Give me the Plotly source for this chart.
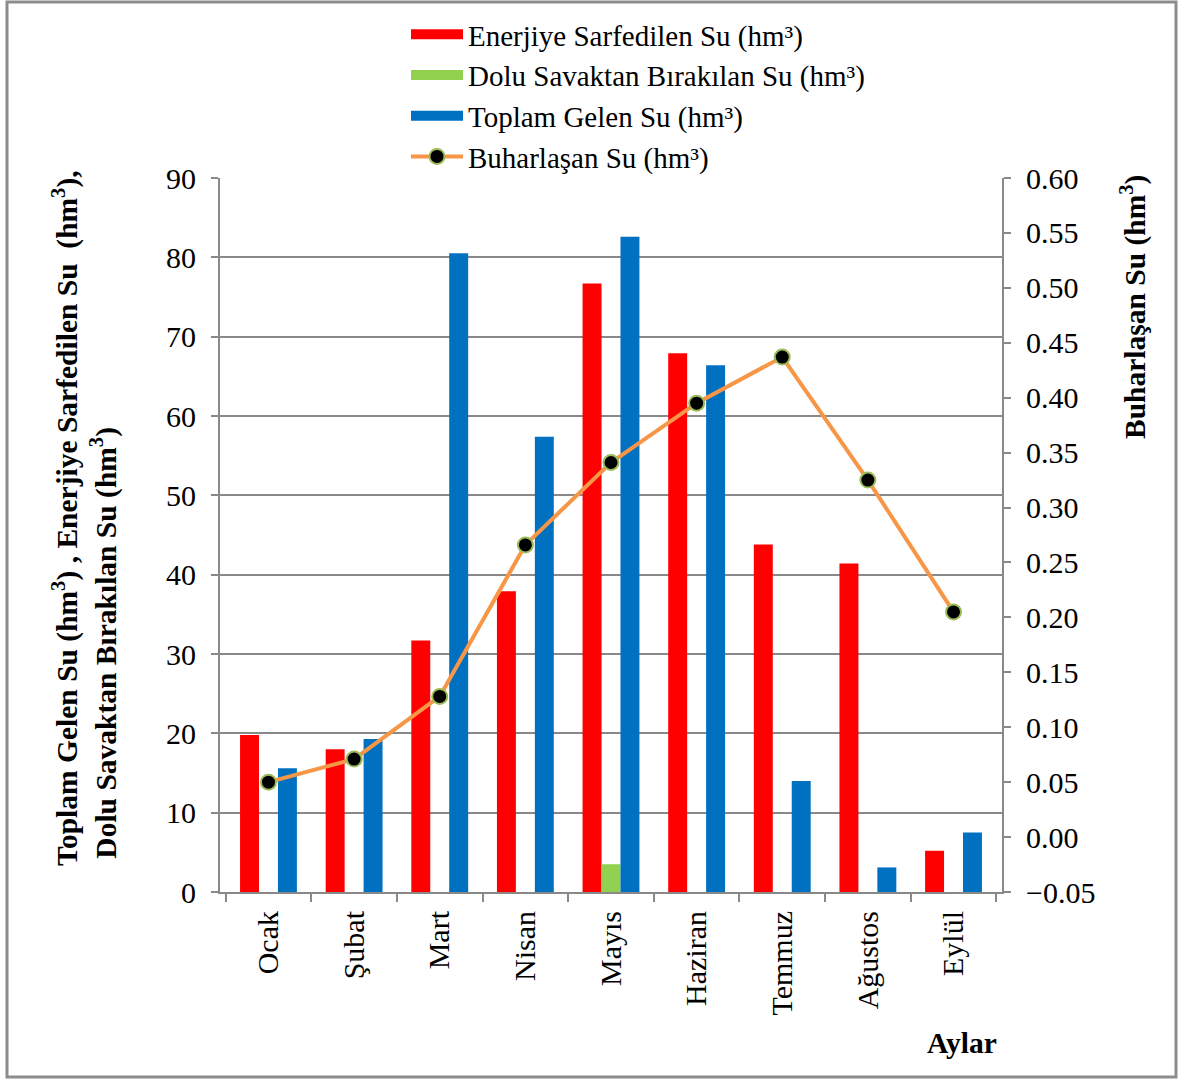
import plotly.graph_objects as go

months = ["Ocak", "Şubat", "Mart", "Nisan", "Mayıs", "Haziran", "Temmuz", "Ağustos", "Eylül"]
enerji = [19.8, 18.0, 31.7, 37.9, 76.7, 67.9, 43.8, 41.4, 5.2]
dolu = [0, 0, 0, 0, 3.5, 0, 0, 0, 0]
toplam = [15.6, 19.3, 80.5, 57.4, 82.6, 66.4, 14.0, 3.1, 7.5]
buhar = [0.050, 0.071, 0.128, 0.266, 0.341, 0.395, 0.437, 0.325, 0.205]

names = ["Enerjiye Sarfedilen Su (hm³)", "Dolu Savaktan Bırakılan Su (hm³)",
         "Toplam Gelen Su (hm³)", "Buharlaşan Su (hm³)"]
RED, GREEN, BLUE, ORANGE = "#FF0000", "#92D050", "#0070C0", "#F79646"
GRID = "#898989"
FONT = "Liberation Serif"
FS_TICK = 30
FS_LEG = 29
FS_TITLE = 29.5

fig = go.Figure()
for vals, col, nm in [(enerji, RED, names[0]), (dolu, GREEN, names[1]), (toplam, BLUE, names[2])]:
    fig.add_trace(go.Bar(x=months, y=vals, marker=dict(color=col, line=dict(width=0)),
                         name=nm, showlegend=False))
    # legend swatch
    fig.add_trace(go.Scatter(x=[None], y=[None], mode="lines", name=nm,
                             line=dict(color=col, width=15), showlegend=True))

fig.add_trace(go.Scatter(x=months, y=buhar, yaxis="y2", mode="lines+markers", name=names[3],
                         line=dict(color=ORANGE, width=4),
                         marker=dict(color="black", size=15, line=dict(color="#9BBB59", width=2))))

W, H = 1179, 1079
L, R, T, B = 220, 1179 - 1002, 178, 1079 - 892
pw, ph = W - L - R, H - T - B
px = lambda x: (x - L) / pw
py = lambda y: (H - B - y) / ph

fig.update_layout(
    width=W, height=H,
    margin=dict(l=L, r=R, t=T, b=B, autoexpand=False),
    paper_bgcolor="white", plot_bgcolor="white",
    font=dict(family=FONT, size=FS_TICK, color="black"),
    barmode="group", bargap=0.336, bargroupgap=0,
    showlegend=True,
    legend=dict(x=px(406), y=py(9), xanchor="left", yanchor="top",
                font=dict(family=FONT, size=FS_LEG), itemwidth=52, tracegroupgap=0,
                bgcolor="rgba(0,0,0,0)", traceorder="normal"),
    xaxis=dict(type="category", tickson="boundaries", ticks="outside", ticklen=8,
               tickcolor=GRID, tickwidth=2, showline=True, linecolor=GRID, linewidth=2,
               tickangle=-90, showgrid=False, ticklabelstandoff=5,
               tickfont=dict(family=FONT, size=FS_TICK)),
    yaxis=dict(range=[0, 90], dtick=10, ticks="outside", ticklen=7, tickcolor=GRID, tickwidth=2,
               showline=True, linecolor=GRID, linewidth=2, showgrid=True, gridcolor=GRID,
               gridwidth=2, zeroline=False, ticklabelstandoff=9,
               tickfont=dict(family=FONT, size=FS_TICK)),
    yaxis2=dict(range=[-0.05, 0.60], dtick=0.05, tick0=-0.05, tickformat=".2f", overlaying="y",
                side="right", ticks="outside", ticklen=7, tickcolor=GRID, tickwidth=2,
                showline=True, linecolor=GRID, linewidth=2, showgrid=False, zeroline=False,
                ticklabelstandoff=9, tickfont=dict(family=FONT, size=FS_TICK)),
)

fig.add_annotation(xref="paper", yref="paper", x=px(85), y=py(518), textangle=-90,
                   text="<b>Toplam Gelen Su (hm<sup>3</sup>) , Enerjiye Sarfedilen Su  (hm<sup>3</sup>),</b><br><b> Dolu Savaktan Bırakılan Su (hm<sup>3</sup>)</b>",
                   showarrow=False, align="left", xanchor="center", yanchor="middle",
                   font=dict(family=FONT, size=FS_TITLE))
fig.add_annotation(xref="paper", yref="paper", x=px(1133), y=py(307), textangle=-90,
                   text="<b>Buharlaşan Su (hm<sup>3</sup>)</b>", showarrow=False,
                   xanchor="center", yanchor="middle", font=dict(family=FONT, size=FS_TITLE))
fig.add_annotation(xref="paper", yref="paper", x=px(962), y=py(1043), text="<b>Aylar</b>",
                   showarrow=False, xanchor="center", yanchor="middle",
                   font=dict(family=FONT, size=FS_TITLE))

fig.add_shape(type="rect", xref="paper", yref="paper", x0=px(7), x1=px(1176), y0=py(1077), y1=py(2),
              line=dict(color="#8C8C8C", width=3), fillcolor="rgba(0,0,0,0)", layer="below")

fig.write_html("out.html", config={"displayModeBar": False},
               post_script="document.body.style.margin='0';document.body.style.overflow='hidden';")
